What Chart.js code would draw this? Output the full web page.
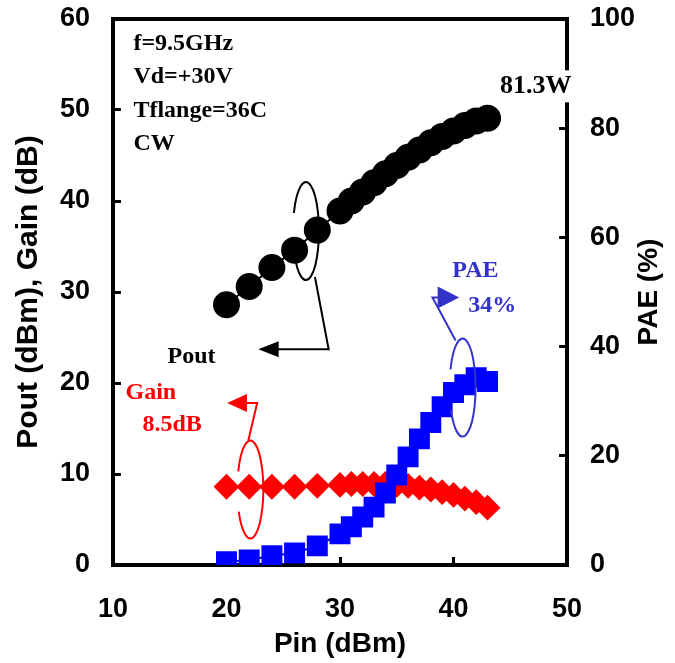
<!DOCTYPE html>
<html>
<head>
<meta charset="utf-8">
<script src="https://cdn.jsdelivr.net/npm/chart.js@4.4.0/dist/chart.umd.min.js"></script>
<style>
  body { margin: 0; background: #fff; }
  #wrap { position: relative; width: 675px; height: 663px; }
</style>
</head>
<body>
<div id="wrap"><canvas id="myChart"></canvas></div>
<script>
// Chart values
const pinValues  = [20, 22, 24, 26, 28, 30, 31, 32, 33, 34, 35, 36, 37, 38, 39, 40, 41, 42, 43];
const poutValues = [28.6, 30.6, 32.7, 34.6, 36.8, 38.9, 40.0, 41.0, 42.0, 43.0, 43.9, 44.8, 45.6, 46.4, 47.1, 47.7, 48.3, 48.8, 49.1];
const gainValues = [8.6, 8.6, 8.6, 8.6, 8.7, 8.8, 8.9, 8.9, 8.9, 8.9, 8.8, 8.7, 8.5, 8.3, 8.0, 7.7, 7.3, 6.9, 6.3];
const paeValues  = [0.6, 0.9, 1.7, 2.2, 3.5, 5.7, 7.0, 8.8, 10.6, 13.2, 16.5, 19.8, 23.1, 26.1, 29.0, 31.6, 33.0, 34.3, 33.6];

// Axis ranges
const xRange = [10, 50];
const leftRange = [0, 60];
const rightRange = [0, 100];

const conditionLines = ['f=9.5GHz', 'Vd=+30V', 'Tflange=36C', 'CW'];

const ctx = document.getElementById('myChart');

const tickFont = { family: 'Liberation Sans, Arial, sans-serif', size: 27, weight: 'bold' };
const noteFont = 'bold 24px "Liberation Serif", "Times New Roman", serif';

function toPoints(ys) {
  return pinValues.map((p, i) => ({ x: p, y: ys[i] }));
}

// callouts: loops, leader lines and arrow heads, placed in data units
const calloutPlugin = {
  id: 'callouts',
  afterDatasetsDraw(chart) {
    const c = chart.ctx;
    const px = v => chart.scales.x.getPixelForValue(v);
    const py = v => chart.scales.y.getPixelForValue(v);

    function loop(cx, cy, color) {
      c.beginPath();
      c.ellipse(px(cx), py(cy), 13, 49, 0, 1.12 * Math.PI, 2.85 * Math.PI);
      c.strokeStyle = color;
      c.lineWidth = 2;
      c.stroke();
    }
    function path(pts, color) {
      c.beginPath();
      pts.forEach((p, i) => {
        if (i === 0) c.moveTo(p[0], p[1]); else c.lineTo(p[0], p[1]);
      });
      c.strokeStyle = color;
      c.lineWidth = 2;
      c.stroke();
    }
    function tri(pts, color) {
      c.beginPath();
      c.moveTo(pts[0][0], pts[0][1]);
      c.lineTo(pts[1][0], pts[1][1]);
      c.lineTo(pts[2][0], pts[2][1]);
      c.closePath();
      c.fillStyle = color;
      c.fill();
    }

    c.save();
    // Pout
    loop(27.0, 36.7, '#000');
    path([[px(27.0) + 9, py(36.7) + 46], [px(29.0), py(23.7)], [px(23.6), py(23.7)]], '#000');
    tri([[px(22.8), py(23.7)], [px(24.6), py(23.7) - 8], [px(24.6), py(23.7) + 8]], '#000');
    // Gain
    loop(22.1, 8.3, '#ff0000');
    path([[px(22.1) - 2, py(8.3) - 49], [px(22.7), py(17.8)], [px(21.8), py(17.8)]], '#ff0000');
    tri([[px(20.06), py(17.8)], [px(21.8), py(17.8) - 9], [px(21.8), py(17.8) + 9]], '#ff0000');
    // PAE
    loop(40.8, 19.5, '#3333cc');
    path([[px(40.8) - 7, py(19.5) - 47], [px(38.15), py(29.4)], [px(38.7), py(29.4)]], '#3333cc');
    tri([[px(38.6), py(29.4) - 11], [px(40.5), py(29.4)], [px(38.6), py(29.4) + 11]], '#3333cc');
    c.restore();
  },
  afterDraw(chart) {
    const c = chart.ctx;
    const area = chart.chartArea;
    const px = v => chart.scales.x.getPixelForValue(v);
    const py = v => chart.scales.y.getPixelForValue(v);
    c.save();

    // top frame line
    c.strokeStyle = '#000';
    c.lineWidth = 4;
    c.beginPath();
    c.moveTo(area.left - 2, area.top);
    c.lineTo(area.right + 2, area.top);
    c.stroke();

    c.font = noteFont;
    c.textAlign = 'left';
    c.textBaseline = 'middle';

    c.fillStyle = '#000';
    const condY = [57.3, 53.6, 49.9, 46.3];
    conditionLines.forEach((t, i) => c.fillText(t, px(11.8), py(condY[i])));

    // 81.3W label sits over the right frame line
    c.font = 'bold 26px "Liberation Serif", "Times New Roman", serif';
    const w = c.measureText('81.3W').width;
    c.fillStyle = '#fff';
    c.fillRect(px(44.1) - 2, py(52.6) - 16, w + 4, 32);
    c.fillStyle = '#000';
    c.fillText('81.3W', px(44.1), py(52.6));
    c.font = noteFont;

    c.fillText('Pout', px(14.8), py(22.9));

    c.fillStyle = '#ff0000';
    c.fillText('Gain', px(11.1), py(18.9));
    c.fillText('8.5dB', px(12.6), py(15.4));

    c.fillStyle = '#3333cc';
    c.fillText('PAE', px(39.9), py(32.3));
    c.fillText('34%', px(41.3), py(28.5));

    // right axis title, reading upward
    c.fillStyle = '#000';
    c.font = 'bold 28px "Liberation Sans", Arial, sans-serif';
    c.textAlign = 'center';
    c.translate(649, (area.top + area.bottom) / 2);
    c.rotate(-Math.PI / 2);
    c.fillText('PAE (%)', 0, 0);
    c.restore();
  }
};

const tickGrid = {
  display: true,
  drawOnChartArea: false,
  drawTicks: true,
  tickLength: -8,
  tickWidth: 3,
  tickColor: '#000'
};
const frame = { display: true, width: 4, color: '#000' };

// fixed axis sizes so the plot box lands where the original one is
function fixVertical(width) {
  return s => {
    s.width = width;
    s.paddingTop = 10;
    s.paddingBottom = 10;
  };
}

let myChart = new Chart(ctx, {
  type: 'line',
  data: {
    datasets: [{
      label: 'Pout',
      data: toPoints(poutValues),
      yAxisID: 'y',
      borderColor: '#000',
      backgroundColor: '#000',
      borderWidth: 2,
      pointStyle: 'circle',
      pointRadius: 12.5,
      order: 2
    }, {
      label: 'Gain',
      data: toPoints(gainValues),
      yAxisID: 'y',
      borderColor: '#ff0000',
      backgroundColor: '#ff0000',
      borderWidth: 2,
      pointStyle: 'rectRot',
      pointRadius: 11.5,
      order: 1
    }, {
      label: 'PAE',
      data: toPoints(paeValues),
      yAxisID: 'y1',
      borderColor: '#0000ff',
      backgroundColor: '#0000ff',
      borderWidth: 2,
      pointStyle: 'rect',
      pointRadius: 13.4,
      order: 0
    }]
  },
  options: {
    responsive: true,
    maintainAspectRatio: false,
    animation: false,
    layout: { padding: { top: 19 } },
    plugins: {
      legend: { display: false },
      tooltip: { enabled: false }
    },
    scales: {
      x: {
        type: 'linear',
        position: 'bottom',
        min: xRange[0],
        max: xRange[1],
        grid: tickGrid,
        border: frame,
        ticks: { stepSize: 10, color: '#000', font: tickFont, padding: 36, maxRotation: 0 },
        title: {
          display: true,
          text: 'Pin (dBm)',
          color: '#000',
          font: { family: 'Liberation Sans, Arial, sans-serif', size: 28, weight: 'bold' },
          padding: { top: 0, bottom: 2 }
        },
        afterFit: s => { s.height = 98; }
      },
      y: {
        type: 'linear',
        position: 'left',
        min: leftRange[0],
        max: leftRange[1],
        grid: tickGrid,
        border: frame,
        ticks: { stepSize: 10, color: '#000', font: tickFont, padding: 31 },
        title: {
          display: true,
          text: 'Pout (dBm), Gain (dB)',
          color: '#000',
          font: { family: 'Liberation Sans, Arial, sans-serif', size: 30, weight: 'bold' },
          padding: { top: 11, bottom: 0 }
        },
        afterFit: fixVertical(113)
      },
      y1: {
        type: 'linear',
        position: 'right',
        min: rightRange[0],
        max: rightRange[1],
        grid: tickGrid,
        border: frame,
        ticks: { stepSize: 20, color: '#000', font: tickFont, padding: 31 },
        afterFit: fixVertical(108)
      }
    }
  },
  plugins: [calloutPlugin]
});
</script>
</body>
</html>
